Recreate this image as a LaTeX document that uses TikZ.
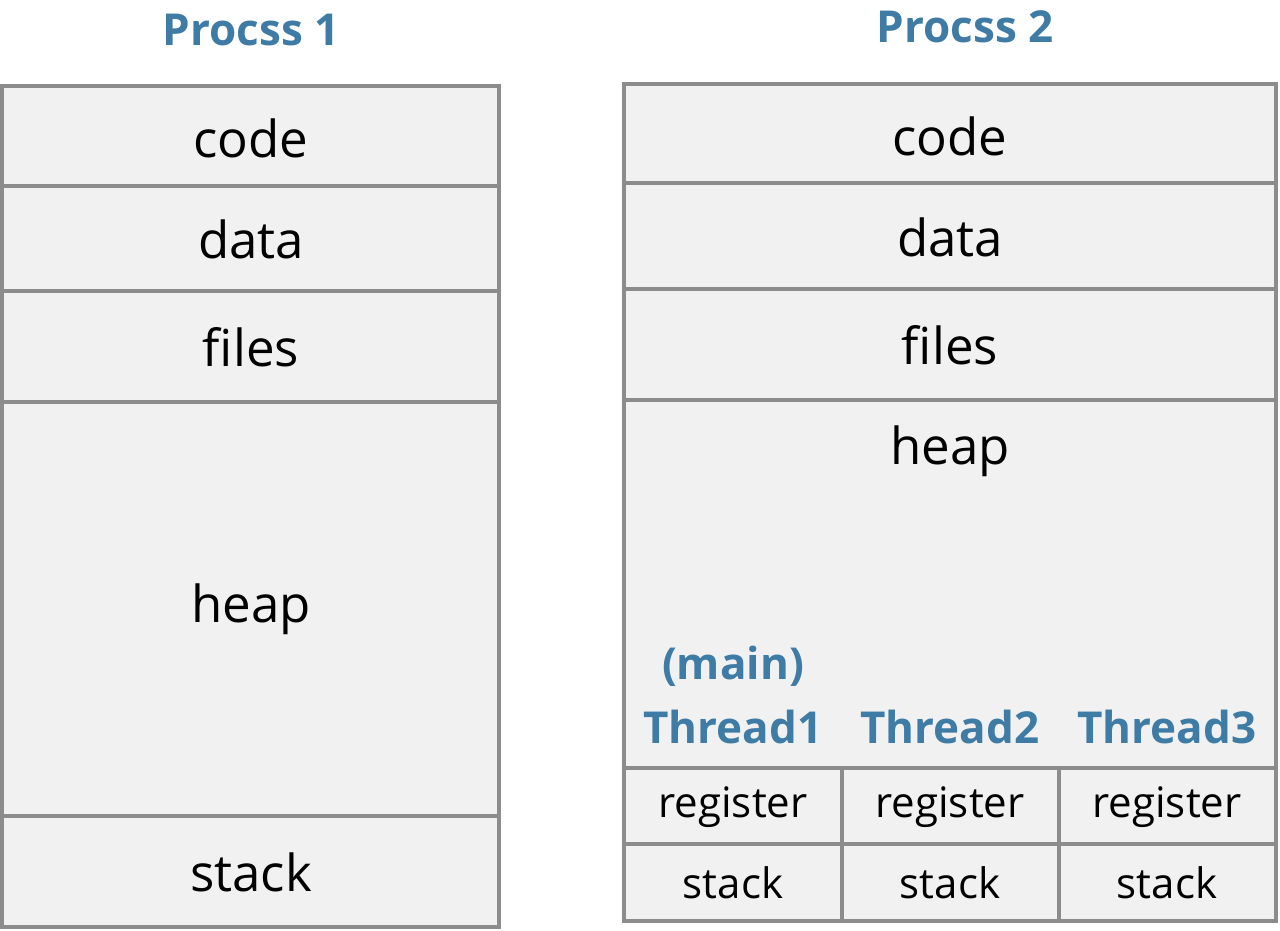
\documentclass[tikz,border=0pt]{standalone}
\usepackage{fontspec}
\setmainfont{Open Sans}
\definecolor{cellfill}{HTML}{F1F1F1}
\definecolor{cellline}{HTML}{8C8C8C}
\definecolor{titleblue}{HTML}{3E7BA5}
\tikzset{
  cell/.style={draw=cellline, fill=cellfill, line width=4pt, inner sep=0pt, outer sep=0pt},
  celltext/.style={font=\fontsize{51}{55}\selectfont, text=black, inner sep=0pt},
  smalltext/.style={font=\fontsize{42}{46}\selectfont, text=black, inner sep=0pt},
  titletext/.style={font=\bfseries\fontsize{44}{48}\selectfont, text=titleblue, inner sep=0pt},
  threadtext/.style={font=\bfseries\fontsize{44}{48}\selectfont, text=titleblue, inner sep=0pt},
}
\begin{document}
\begin{tikzpicture}[x=1pt,y=-1pt]
\useasboundingbox (0,0) rectangle (1280,930);
% Process 1
\node[titletext] (t1) at (251,30) {Procss 1};
\draw[cell] (2,86) rectangle (499,186);
\draw[cell] (2,186) rectangle (499,291);
\draw[cell] (2,291) rectangle (499,402);
\draw[cell] (2,402) rectangle (499,816);
\draw[cell] (2,816) rectangle (499,927);
\node[celltext] (p1code) at (251,138) {code};
\node[celltext] (p1data) at (251,239) {data};
\node[celltext] (p1files) at (251,347) {files};
\node[celltext] (p1heap) at (251,609) {heap};
\node[celltext] (p1stack) at (251,872) {stack};
% Process 2
\node[titletext] (t2) at (965,27) {Procss 2};
\draw[cell] (624,84) rectangle (1276,183);
\draw[cell] (624,183) rectangle (1276,289);
\draw[cell] (624,289) rectangle (1276,400);
\draw[cell] (624,400) rectangle (1276,768);
\foreach \a/\b in {624/842,842/1059,1059/1276}{
  \draw[cell] (\a,768) rectangle (\b,844);
  \draw[cell] (\a,844) rectangle (\b,921);
}
\node[celltext] (p2code) at (950,136) {code};
\node[celltext] (p2data) at (950,237) {data};
\node[celltext] (p2files) at (950,345) {files};
\node[celltext] (p2heap) at (950,451) {heap};
\node[threadtext] (main) at (733,666) {(main)};
\node[threadtext] (th1) at (733,727) {Thread1};
\node[threadtext] (th2) at (950,727) {Thread2};
\node[threadtext] (th3) at (1167,727) {Thread3};
\node[smalltext] (r1) at (733,807) {register};
\node[smalltext] (r2) at (950,807) {register};
\node[smalltext] (r3) at (1167,807) {register};
\node[smalltext] (s1) at (733,883) {stack};
\node[smalltext] (s2) at (950,883) {stack};
\node[smalltext] (s3) at (1167,883) {stack};
\end{tikzpicture}
\end{document}
